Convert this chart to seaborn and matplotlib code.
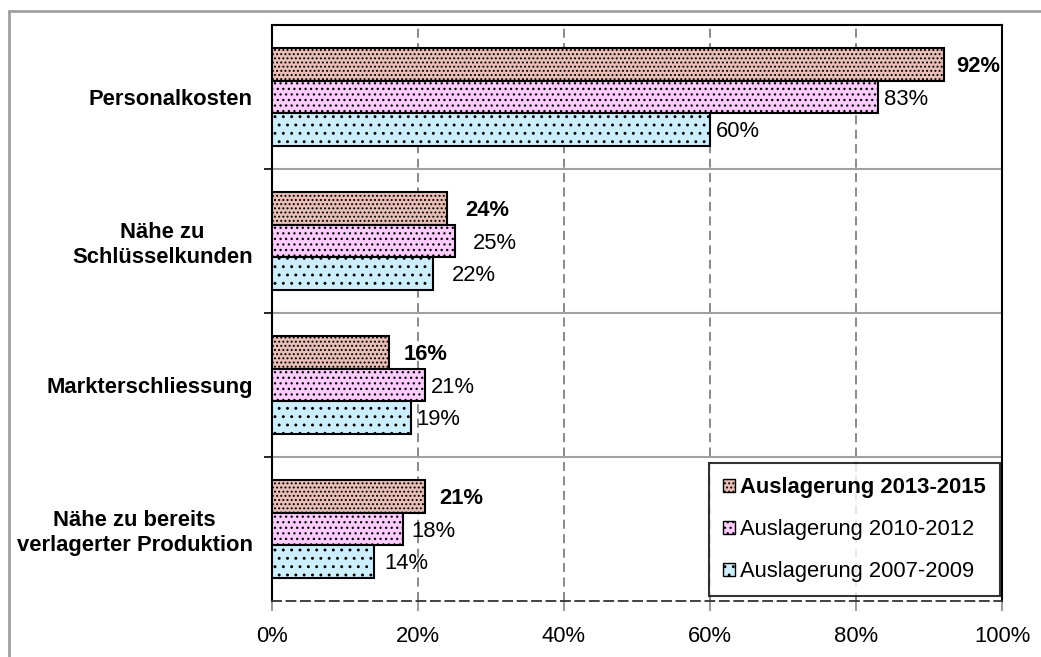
import matplotlib
matplotlib.use("Agg")
import matplotlib.pyplot as plt
import matplotlib.patches as mpatches
import matplotlib.transforms as mtransforms
import seaborn as sns
import pandas as pd

# --- data -------------------------------------------------------------
categories = ["Personalkosten", "Nähe zu\nSchlüsselkunden",
              "Markterschliessung", "Nähe zu bereits\nverlagerter Produktion"]
series = ["Auslagerung 2013-2015", "Auslagerung 2010-2012", "Auslagerung 2007-2009"]
vals_2013_2015 = [92, 24, 16, 21]
vals_2010_2012 = [83, 25, 21, 18]
vals_2007_2009 = [60, 22, 19, 14]
x_ticks = [0, 20, 40, 60, 80, 100]
x_tick_labels = ["0%", "20%", "40%", "60%", "80%", "100%"]

# --- styling ----------------------------------------------------------
colors = ["#E8BEB6", "#FFCCFF", "#CCEEFF"]
hatches = ["....", "...", ".."]
label_offsets_px = [
    [13, 18, 15, 14],   # 2013-2015 (bold)
    [6, 18, 6, 8],      # 2010-2012
    [6, 19, 6, 10],     # 2007-2009
]
FS = 15.8

sns.set_theme(style="white")
plt.rcParams["font.family"] = ["Liberation Sans", "DejaVu Sans"]
plt.rcParams["hatch.linewidth"] = 0.9
plt.rcParams["hatch.color"] = "#3a3a3a"
plt.rcParams["text.color"] = "black"
plt.rcParams["xtick.labelcolor"] = "black"
plt.rcParams["ytick.labelcolor"] = "black"

rows = []
for s, vals in zip(series, [vals_2013_2015, vals_2010_2012, vals_2007_2009]):
    for c, v in zip(categories, vals):
        rows.append({"Kategorie": c, "Serie": s, "Wert": v})
df = pd.DataFrame(rows)

fig = plt.figure(figsize=(10.41, 6.57), dpi=100)
ax = fig.add_axes([272 / 1041, 1 - 601 / 657, 730 / 1041, 576 / 657])

sns.barplot(data=df, y="Kategorie", x="Wert", hue="Serie", order=categories,
            hue_order=series, palette=colors, orient="h", width=0.674,
            edgecolor="black", linewidth=1.5, ax=ax, legend=False, zorder=3,
            saturation=1)

for cont, h in zip(ax.containers, hatches):
    for bar in cont:
        bar.set_hatch(h)

# value labels
for si, cont in enumerate(ax.containers):
    for ci, bar in enumerate(cont):
        v = bar.get_width()
        yc = bar.get_y() + bar.get_height() / 2
        off = mtransforms.offset_copy(ax.transData, fig=fig,
                                      x=label_offsets_px[si][ci] * 0.72, y=-1.5,
                                      units="points")
        ax.text(v, yc, f"{v:.0f}%", transform=off, ha="left", va="center",
                fontsize=FS, fontweight="bold" if si == 0 else "normal",
                color="black", zorder=5)

# axes limits and ticks
ax.set_xlim(0, 100)
ax.set_ylim(3.5, -0.5)
ax.set_xticks(x_ticks)
ax.set_xticklabels(x_tick_labels, fontsize=FS)
ax.set_yticks(range(len(categories)))
ax.set_yticklabels(categories, fontsize=FS, fontweight="bold",
                   ha="right", multialignment="center")
ax.set_xlabel("")
ax.set_ylabel("")
ax.tick_params(axis="x", direction="out", length=7, width=1.2, color="#888888",
               pad=11, bottom=True)
ax.tick_params(axis="y", which="major", direction="in", length=3, width=1.2,
               color="black", pad=14, left=True)
ax.set_yticks([0.5, 1.5, 2.5], minor=True)
ax.tick_params(axis="y", which="minor", direction="out", length=6, width=1.2,
               color="black", left=True)

# grid lines: dashed verticals, grey category separators
for xv in x_ticks[1:-1]:
    ax.axvline(xv, color="#808080", linestyle=(0, (5, 3)), linewidth=1.3, zorder=1)
for yv in [0.5, 1.5, 2.5]:
    ax.axhline(yv, color="#A0A0A0", linestyle="-", linewidth=1.5, zorder=1)

for side in ["top", "right", "left"]:
    ax.spines[side].set_visible(True)
    ax.spines[side].set_color("black")
    ax.spines[side].set_linewidth(1.5)
ax.spines["bottom"].set_color("#333333")
ax.spines["bottom"].set_linewidth(1.3)
ax.spines["bottom"].set_linestyle((0, (5, 3)))

# legend
handles = [mpatches.Patch(facecolor=c, edgecolor="black", hatch=h, linewidth=1.0)
           for c, h in zip(colors, hatches)]
leg = ax.legend(handles, series, loc="lower right", bbox_to_anchor=(0.997, 0.008),
                frameon=True, fancybox=False, fontsize=FS, handlelength=0.55,
                handleheight=0.55, handletextpad=0.2, labelspacing=0.95,
                borderpad=0.65, borderaxespad=0.0)
leg.get_frame().set_edgecolor("black")
leg.get_frame().set_linewidth(1.5)
leg.set_zorder(6)
leg.get_texts()[0].set_fontweight("bold")

# outer chart border
fig.patches.append(mpatches.Rectangle((9 / 1041, -0.2), 1.5, 0.2 + 1 - 11 / 657,
                                      transform=fig.transFigure, fill=False,
                                      edgecolor="#A0A0A0", linewidth=2.0))

fig.savefig("out.png", dpi=100)
